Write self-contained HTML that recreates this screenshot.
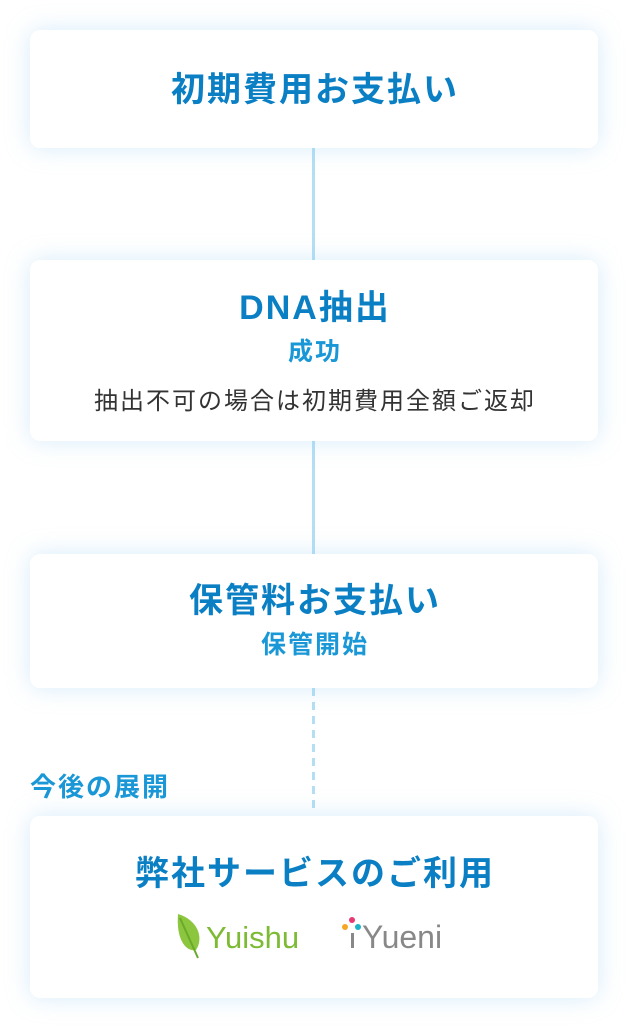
<!DOCTYPE html>
<html><head><meta charset="utf-8"><style>
body{margin:0;width:628px;height:1028px;background:#fff;position:relative;font-family:"Liberation Sans","Noto Sans CJK JP",sans-serif;overflow:hidden}
.box{position:absolute;left:30px;width:568px;background:#fff;border-radius:10px;box-shadow:0 0 24px rgba(140,200,240,.35)}
.t{position:absolute;left:0;right:0;text-align:center;font-weight:bold;color:#0a7fc4;font-size:34px;letter-spacing:2px;text-indent:2px;line-height:1}
.s{position:absolute;left:0;right:0;text-align:center;font-weight:bold;color:#1a97d6;font-size:25px;letter-spacing:2px;text-indent:2px;line-height:1}
.g{position:absolute;left:0;right:0;text-align:center;color:#333;font-size:24px;letter-spacing:2px;text-indent:2px;line-height:1}
.line{position:absolute;left:312px;width:3px;background:#b3dff5}
</style></head><body>
<div class="line" style="top:148px;height:112px"></div>
<div class="line" style="top:441px;height:113px"></div>
<div style="position:absolute;left:312px;top:688px;width:3px;height:124px;background:repeating-linear-gradient(#b3dff5 0 8px,transparent 8px 14px)"></div>
<div class="box" style="top:30px;height:118px"><div class="t" style="top:43px">初期費用お支払い</div></div>
<div class="box" style="top:260px;height:181px"><div class="t" style="top:31px">DNA抽出</div><div class="s" style="top:80px">成功</div><div class="g" style="top:130px">抽出不可の場合は初期費用全額ご返却</div></div>
<div class="box" style="top:554px;height:134px"><div class="t" style="top:30px">保管料お支払い</div><div class="s" style="top:79px">保管開始</div></div>
<div style="position:absolute;left:30px;top:774px;font-size:26px;letter-spacing:2px;font-weight:bold;color:#1a97d6;line-height:1">今後の展開</div>
<div class="box" style="top:816px;height:182px">
<div class="t" style="top:41px">弊社サービスのご利用</div>
<svg style="position:absolute;left:144px;top:94px" width="130" height="50">
<path d="M4 4 C24 10 30 28 22 40 C12 42 2 30 4 4Z" fill="#8cc63f"/><path d="M6 8 L24 48" stroke="#6aaa2a" stroke-width="2"/>
<text x="32" y="38" font-family="Liberation Sans,sans-serif" font-size="31" fill="#7dbb34">Yuishu</text></svg>
<svg style="position:absolute;left:306px;top:98px" width="140" height="40">
<circle cx="16" cy="6" r="3" fill="#e8386f"/><circle cx="9" cy="13" r="3" fill="#f5a623"/><circle cx="22" cy="13" r="3" fill="#1ab3c8"/><rect x="15" y="19" width="3" height="15" fill="#888"/>
<text x="26" y="34" font-family="Liberation Sans,sans-serif" font-size="32" fill="#888">Yueni</text></svg>
</div>
</body></html>
